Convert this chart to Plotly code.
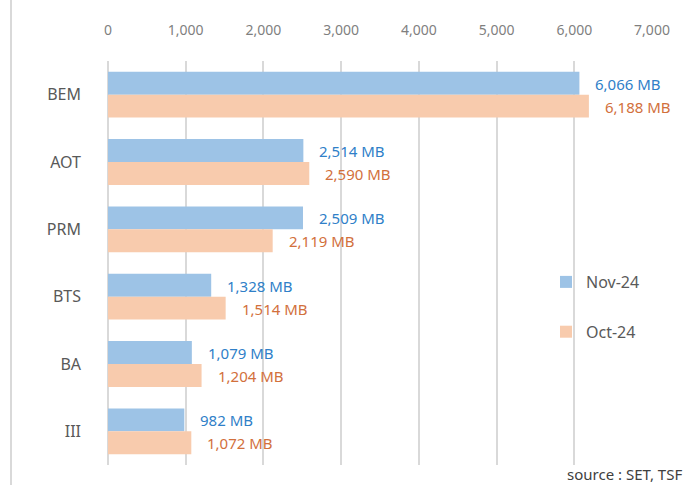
import plotly.graph_objects as go

categories = ["BEM", "AOT", "PRM", "BTS", "BA", "III"]
series_names = ["Nov-24", "Oct-24"]
nov_values = [6066, 2514, 2509, 1328, 1079, 982]
oct_values = [6188, 2590, 2119, 1514, 1204, 1072]
x_ticks = [0, 1000, 2000, 3000, 4000, 5000, 6000, 7000]
source_text = "source : SET, TSF"

bar_colors = ["#9DC3E6", "#F8CBAD"]
text_colors = ["#2F80C8", "#D2703C"]
FONT = "Noto Sans"

fig = go.Figure()
all_values = [nov_values, oct_values]
for i, (name, vals) in enumerate(zip(series_names, all_values)):
    fig.add_trace(go.Bar(
        y=categories, x=vals, name=name, orientation="h",
        marker=dict(color=bar_colors[i], line=dict(width=0)),
        legendgroup=name,
    ))

# value labels
annotations = []
for i, vals in enumerate(all_values):
    yshift = 11 if i == 0 else -12
    for c, v in zip(categories, vals):
        annotations.append(dict(
            x=v, y=c, xref="x", yref="y", text=f"{v:,} MB",
            showarrow=False, xanchor="left", yanchor="middle",
            xshift=14, yshift=yshift,
            font=dict(family=FONT, size=15, color=text_colors[i]),
        ))

annotations.append(dict(
    x=(684 - 108) / 544, y=(465 - 474) / 404, xref="paper", yref="paper",
    text=source_text, showarrow=False, xanchor="right", yanchor="middle",
    font=dict(family=FONT, size=15, color="#404040"),
))

fig.update_layout(
    width=688, height=485,
    margin=dict(l=108, r=36, t=61, b=20),
    paper_bgcolor="white", plot_bgcolor="white",
    barmode="group", bargap=0.32, bargroupgap=0,
    font=dict(family=FONT, color="#595959"),
    xaxis=dict(
        side="top", range=[0, 7000], tickvals=x_ticks,
        tickformat=",d", showgrid=True, gridcolor="#D9D9D9", gridwidth=2,
        zeroline=True, zerolinecolor="#D9D9D9", zerolinewidth=2,
        showline=False, ticks="", ticklabelstandoff=22,
        tickfont=dict(family=FONT, size=14, color="#7F7F7F"),
        fixedrange=True,
    ),
    yaxis=dict(
        autorange="reversed", showgrid=False, zeroline=False, showline=False,
        ticks="", ticklabelstandoff=26,
        tickfont=dict(family=FONT, size=16, color="#595959"),
    ),
    legend=dict(
        x=(546 - 108) / 544, y=(465 - 265) / 404, xanchor="left", yanchor="top",
        traceorder="grouped", tracegroupgap=26,
        font=dict(family=FONT, size=16, color="#595959"),
        bgcolor="rgba(0,0,0,0)",
    ),
    annotations=annotations,
    shapes=[dict(
        type="line", xref="paper", yref="paper",
        x0=(11 - 108) / 544, x1=(11 - 108) / 544,
        y0=-0.1, y1=1.2,
        line=dict(color="#D9D9D9", width=2),
    )],
)

fig.write_html("out.html")
